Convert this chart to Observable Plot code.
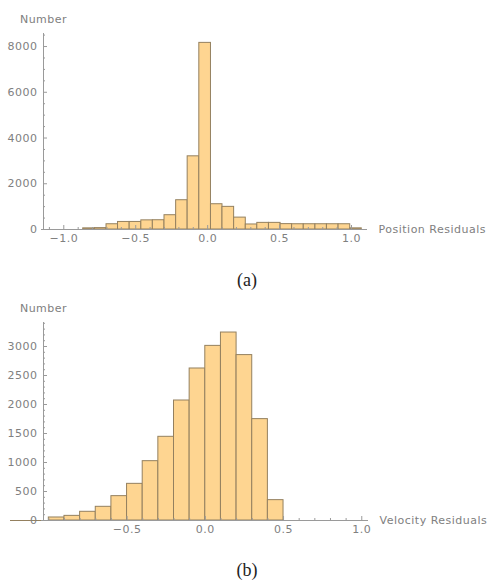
<!DOCTYPE html>
<html><head><meta charset="utf-8">
<script src="https://cdn.jsdelivr.net/npm/d3@7"></script>
<script src="https://cdn.jsdelivr.net/npm/@observablehq/plot@0.6"></script>
<style>
body{margin:0;background:#fff;width:488px;height:584px;position:relative;overflow:hidden}
.panel{position:absolute;left:0}
.cap{position:absolute;left:0;width:494px;text-align:center;font-family:"Liberation Serif","DejaVu Serif",serif;font-size:18px;color:#222;line-height:20px}
</style></head><body>
<div id="a" class="panel" style="top:0"></div>
<div class="cap" style="top:270px">(a)</div>
<div id="b" class="panel" style="top:290px"></div>
<div class="cap" style="top:560px">(b)</div>
<script>
// ---- Panel (a): position residuals ----
const posEdges = [-0.865, -0.784, -0.703, -0.623, -0.542, -0.461, -0.381, -0.300, -0.219, -0.139, -0.058, 0.023, 0.103, 0.184, 0.265, 0.345, 0.426, 0.507, 0.587, 0.668, 0.749, 0.829, 0.910, 0.991, 1.071];
const posCounts = [50, 60, 230, 330, 330, 400, 405, 625, 1280, 3200, 8160, 1105, 990, 520, 220, 290, 290, 235, 230, 230, 230, 230, 230, 50];
const posXMajor = [-1.0, -0.5, 0.0, 0.5, 1.0];
const posXMinor = [-1.1, -0.9, -0.8, -0.7, -0.6, -0.4, -0.3, -0.2, -0.1, 0.1, 0.2, 0.3, 0.4, 0.6, 0.7, 0.8, 0.9];
const posYMajor = [0, 2000, 4000, 6000, 8000];
const posYMinor = [500, 1000, 1500, 2500, 3000, 3500, 4500, 5000, 5500, 6500, 7000, 7500, 8500];

// ---- Panel (b): velocity residuals ----
const velEdges = [-1.0, -0.9, -0.8, -0.7, -0.6, -0.5, -0.4, -0.3, -0.2, -0.1, 0.0, 0.1, 0.2, 0.3, 0.4, 0.5];
const velCounts = [52, 80, 150, 236, 420, 632, 1023, 1443, 2069, 2621, 3011, 3241, 2852, 1748, 351];
const velXMajor = [-0.5, 0.0, 0.5, 1.0];
const velXMinor = [-1.0, -0.9, -0.8, -0.7, -0.6, -0.4, -0.3, -0.2, -0.1, 0.1, 0.2, 0.3, 0.4, 0.6, 0.7, 0.8, 0.9];
const velYMajor = [0, 500, 1000, 1500, 2000, 2500, 3000];
const velYMinor = [100,200,300,400,600,700,800,900,1100,1200,1300,1400,1600,1700,1800,1900,2100,2200,2300,2400,2600,2700,2800,2900,3100,3200,3300,3400];

const FILL = "#fed591", EDGE = "#94805f", AXIS = "#9a9a9a", TEXT = "#808080";

function panel({edges, counts, xDomain, yDomain, marginTop, marginBottom, marginRight, xMajor, xMinor, yMajor, yMinor, xTitle, leftExtend}) {
  const bins = counts.map((c, i) => ({x1: edges[i], x2: edges[i + 1], n: c}));
  const marks = [];
  if (leftExtend) marks.push(Plot.ruleY([0], {stroke: EDGE, insetLeft: -leftExtend}));
  marks.push(
    Plot.rectY(bins, {x1: "x1", x2: "x2", y: "n", fill: FILL, stroke: EDGE, strokeWidth: 1}),
    Plot.ruleY([0], {stroke: AXIS, insetLeft: -2}),
    Plot.frame({anchor: "left", stroke: AXIS}),
    Plot.axisX(xMinor, {tickSize: -2, tickFormat: () => "", stroke: AXIS, label: null}),
    Plot.axisX(xMajor, {tickSize: -4, tickFormat: () => "", stroke: AXIS, label: null}),
    Plot.axisX(xMajor, {tickSize: 0, tickPadding: 5, tickFormat: d3.format(".1f"), fill: TEXT, label: null}),
    Plot.axisY(yMinor, {tickSize: -2, tickFormat: () => "", stroke: AXIS, label: null}),
    Plot.axisY(yMajor, {tickSize: -4, tickFormat: () => "", stroke: AXIS, label: null}),
    Plot.axisY(yMajor, {tickSize: 0, tickPadding: 6, tickFormat: d3.format("d"), fill: TEXT, label: null}),
    Plot.text(["Number"], {text: d => d, frameAnchor: "top-left", dy: -18, textAnchor: "middle", fill: TEXT}),
    Plot.text([xTitle], {text: d => d, frameAnchor: "bottom-right", dx: 11, textAnchor: "start", lineAnchor: "middle", fill: TEXT})
  );
  return Plot.plot({
    width: 488, height: 258,
    marginLeft: 43, marginRight, marginTop, marginBottom,
    x: {domain: xDomain},
    y: {domain: yDomain},
    style: {fontFamily: "'DejaVu Sans', sans-serif", fontSize: "11px", letterSpacing: "0.5px", color: TEXT, background: "transparent", overflow: "visible"},
    marks
  });
}

document.getElementById("a").append(panel({
  edges: posEdges, counts: posCounts,
  xDomain: [-1.141, 1.111], yDomain: [0, 8570],
  marginTop: 33, marginBottom: 29, marginRight: 121,
  xMajor: posXMajor, xMinor: posXMinor, yMajor: posYMajor, yMinor: posYMinor,
  xTitle: "Position Residuals", leftExtend: 0
}));
document.getElementById("b").append(panel({
  edges: velEdges, counts: velCounts,
  xDomain: [-1.034, 1.043], yDomain: [0, 3414],
  marginTop: 32, marginBottom: 28, marginRight: 120,
  xMajor: velXMajor, xMinor: velXMinor, yMajor: velYMajor, yMinor: velYMinor,
  xTitle: "Velocity Residuals", leftExtend: 33
}));
</script>
</body></html>
